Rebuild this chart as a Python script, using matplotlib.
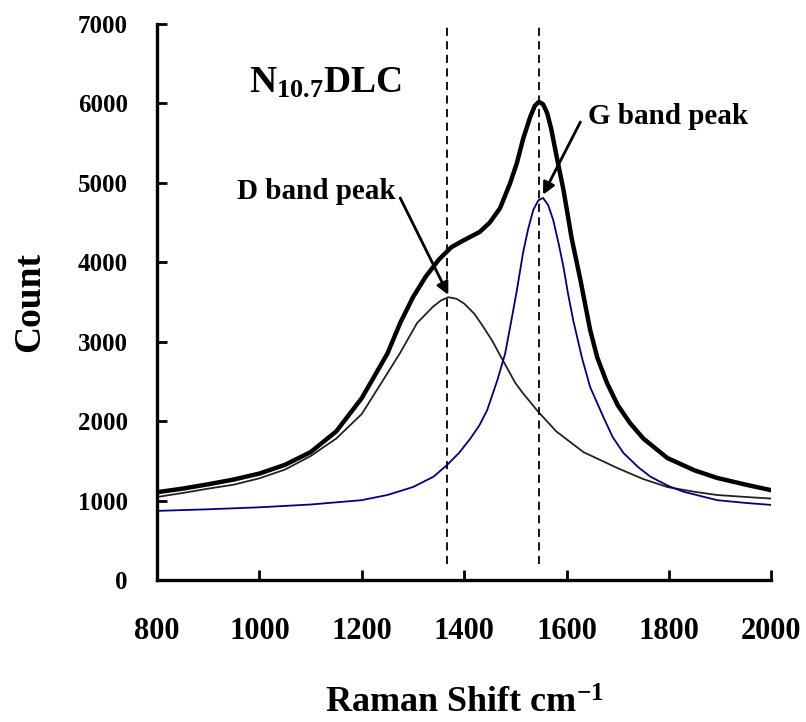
import numpy as np
import matplotlib
matplotlib.use("Agg")
import matplotlib.pyplot as plt

plt.rcParams['font.family'] = ['Liberation Serif', 'DejaVu Serif']
plt.rcParams['font.weight'] = 'bold'
plt.rcParams['mathtext.fontset'] = 'custom'
plt.rcParams['mathtext.rm'] = 'Liberation Serif:bold'
plt.rcParams['mathtext.bf'] = 'Liberation Serif:bold'
plt.rcParams['mathtext.it'] = 'Liberation Serif:bold'

# measured spectrum (thick line)
total_x = [800, 850, 900, 950, 1000, 1050, 1100, 1150, 1200, 1250, 1275, 1300, 1325,
           1350, 1375, 1400, 1430, 1450, 1470, 1490, 1503, 1515, 1529, 1538, 1546, 1554,
           1562, 1570, 1580, 1594, 1610, 1627, 1646, 1660, 1679, 1700, 1724, 1750, 1797,
           1850, 1894, 1950, 2000]
total_y = [1105, 1150, 1205, 1265, 1340, 1450, 1610, 1870, 2290, 2850, 3235, 3560, 3820,
           4030, 4190, 4280, 4380, 4500, 4680, 5000, 5250, 5550, 5830, 5970, 6020, 5990,
           5880, 5680, 5350, 4910, 4300, 3780, 3150, 2800, 2480, 2200, 1975, 1780, 1535,
           1380, 1285, 1200, 1130]

# D band fit
d_x = [800, 850, 900, 950, 1000, 1050, 1100, 1150, 1200, 1242, 1275, 1308, 1339, 1355,
       1369, 1385, 1400, 1420, 1437, 1455, 1470, 1500, 1515, 1545, 1580, 1633, 1699,
       1750, 1797, 1850, 1894, 1950, 2000]
d_y = [1045, 1095, 1150, 1200, 1280, 1390, 1560, 1780, 2090, 2520, 2860, 3235, 3440, 3520,
       3560, 3540, 3480, 3350, 3190, 3010, 2830, 2480, 2350, 2115, 1870, 1610, 1410,
       1270, 1170, 1110, 1070, 1045, 1025]

# G band fit
g_x = [800, 900, 1000, 1100, 1200, 1250, 1300, 1340, 1367, 1390, 1412, 1430, 1445, 1465,
       1480, 1490, 1503, 1515, 1525, 1535, 1545, 1554, 1564, 1574, 1584, 1594, 1603,
       1613, 1630, 1646, 1672, 1690, 1711, 1740, 1764, 1800, 1829, 1894, 1950, 2000]
g_y = [870, 890, 915, 950, 1005, 1070, 1170, 1300, 1450, 1600, 1780, 1950, 2140, 2520,
       2850, 3190, 3650, 4120, 4420, 4660, 4780, 4810, 4720, 4530, 4250, 3940, 3600,
       3270, 2800, 2430, 2050, 1800, 1600, 1420, 1300, 1180, 1110, 1005, 970, 945]

d_peak = 1367
g_peak = 1547

fig = plt.figure(figsize=(8.06, 7.22), dpi=100)
ax = fig.add_axes([0.1948, 0.1967, 0.957 - 0.1948, 0.9668 - 0.1967])

ax.plot(total_x, total_y, color='black', lw=3.2, solid_joinstyle='round')
ax.plot(d_x, d_y, color='#222222', lw=1.3)
ax.plot(g_x, g_y, color='#000080', lw=1.3)

for xv in [d_peak, g_peak]:
    ax.plot([xv, xv], [200, 7000], color='black', lw=1.3, linestyle=(0, (4.5, 3)),
            clip_on=False)

ax.set_xlim(800, 2000)
ax.set_ylim(0, 7000)
ax.set_xticks(np.arange(800, 2001, 200))
ax.set_yticks(np.arange(0, 7001, 1000))

for s in ['top', 'right']:
    ax.spines[s].set_visible(False)
for s in ['left', 'bottom']:
    ax.spines[s].set_linewidth(2.4)
ax.tick_params(direction='in', length=7, width=2)
ax.tick_params(axis='x', labelsize=22, pad=27)
ax.tick_params(axis='y', labelsize=18, pad=21)

ax.set_xlabel('Raman Shift cm$^{-1}$', fontsize=26, fontweight='bold', labelpad=30)
ax.set_ylabel('Count', fontsize=27, fontweight='bold', labelpad=22)

ax.text(1128, 6260, r'$\mathbf{N_{10.7}DLC}$', fontsize=27, ha='center', va='center')
ax.text(1111, 4885, 'D band peak', fontsize=21, ha='center', va='center')
ax.text(1799, 5840, 'G band peak', fontsize=21, ha='center', va='center')

ax.annotate('', xy=(1369, 3590), xytext=(1275, 4810),
            arrowprops=dict(arrowstyle='-|>', lw=2, color='black', mutation_scale=18,
                            shrinkA=0, shrinkB=0))
ax.annotate('', xy=(1554, 4850), xytext=(1627, 5766),
            arrowprops=dict(arrowstyle='-|>', lw=2, color='black', mutation_scale=18,
                            shrinkA=0, shrinkB=0))

plt.savefig('out.png', dpi=100)
